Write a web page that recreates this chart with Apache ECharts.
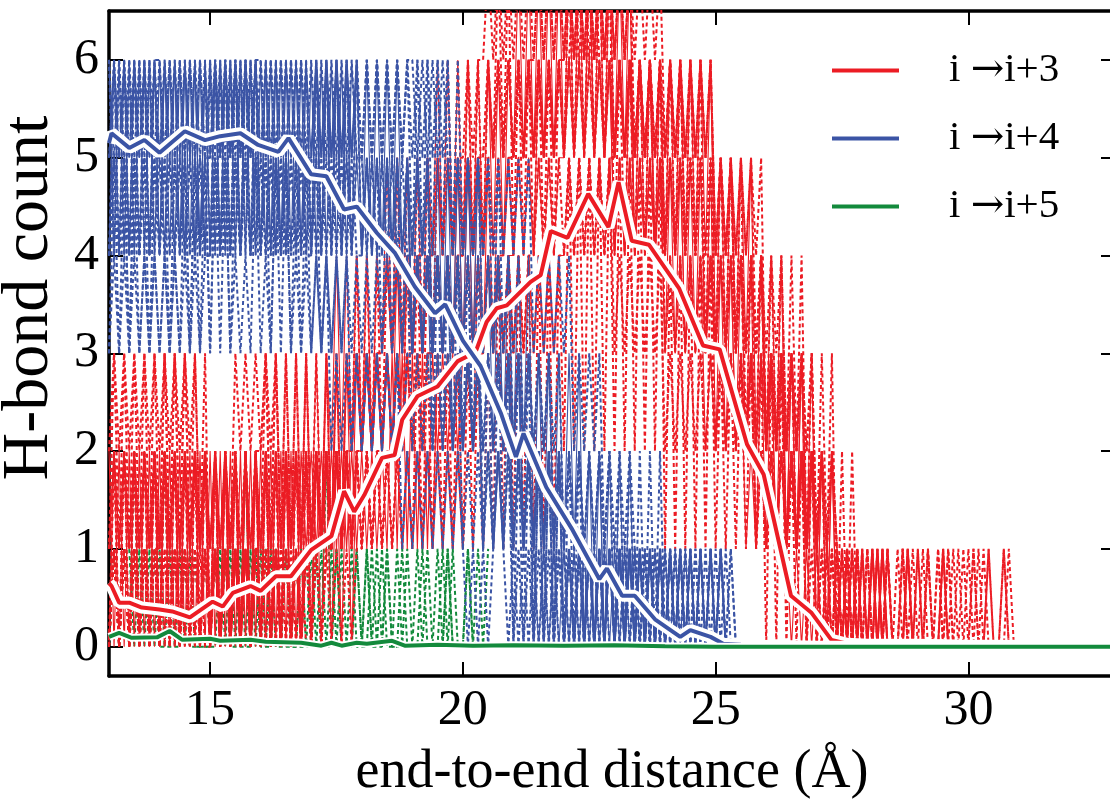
<!DOCTYPE html>
<html>
<head>
<meta charset="utf-8">
<script src="https://cdn.jsdelivr.net/npm/echarts@6/dist/echarts.min.js"></script>
<style>
  html, body { margin: 0; padding: 0; background: #fff; }
  #chart { width: 1110px; height: 803px; }
</style>
</head>
<body>
<div id="chart"></div>
<script>
// individual trajectories, one H-bond count every 0.1 A starting at 13.0 A
const traceStart = 13.0;
const traceStep = 0.1;

const blueTraces = [
  '6464646464 6464646464 6464646464 6464646464 6464646465 5454545434 3434232323 2323121212 1212101010 1010101010 1010101010 1010100000 0000000000 0',
  '5656465646 5656565646 4656565656 5646565656 4646464545 4545454545 4545343434 3434343423 2323232312 1212121201 0101010101 0101010000 0000000000 0',
  '4545354535 4535453545 3545354545 4535453535 4534343423 2323232312 1212121212 1010101210 1010101010 0101010100 0000101000 0000000000 0000000000 0',
  '5656565656 6565656565 5656565656 6565656565 5656565656 5656565656 6565656545 4545454545 4545343434 3423232312 1212101010 1010101010 1010000000 0',
  '4545454545 5454545454 4545454545 5454545454 4545454545 5454545454 4545343434 3423232323 2312121212 1010101010 0101010101 0101000000 0000000000 0',
  '4646464646 4646464646 4646464646 4646464646 4646464646 4646464645 4545353535 3535342424 2424131313 1313020202 0202010101 0101010101 0100000000 0',
  '3535353434 3434353535 3535343435 3435353434 3434232323 2323232323 3434343423 2323121212 1212121201 0101010101 0101000000 0000000000 0000000000 0',
  '6565656565 6565656565 6565656565 6565656565 6565656565 5656565656 5656565645 4545453534 3423232323 1212121212 1010101010 1010101000 0000000000 0',
  '5656565656 4656465646 5646564656 4656465646 5646564656 4545454545 3434343434 2323232323 1212121212 0101010101 0101010101 0000000000 0000000000 0',
  '4646464646 5656565656 4646464646 5656565656 4646464646 5656565656 4646464646 4545343434 2323232312 1212121212 0101010101 0101010101 0100000000 0',
  '6464646464 5454545454 6464646464 5454545454 5454545454 4545353535 3535242424 2424131313 1313020202 0202010101 0101010101 0101010101 0101000000 0',
  '3434343434 3434343434 4545454545 4545454545 3434343434 3434343434 2323232323 1212121212 0101010101 0101010101 0202020202 0101010101 0101000000 0',
  '4545454545 4545454545 5656565656 4545454545 5656565656 4545454545 3434343434 2323232323 0202020202 0101010101 0101010101 0101010101 0100000000 0'
];
const blueSolid = [true, true, false, false, false, true, false, false, true, false, false, false, false];

const redTraces = [
  '0202020202 0202020202 0202020202 0202020202 1212121313 2323232424 3434343435 3535353545 4545465656 5656565656 4545454545 3434343423 2323231212 1212101010 1010000000 0000000000 0000000000 0000000000 0',
  '1212121212 0212021202 1202120212 0202020202 0202020202 1212121212 1212132323 2324343434 4545454545 5656575656 4546454545 4545343434 3434232323 2312121212 1000000000 0000000000 0000000000 0000000000 0',
  '2323232323 2323232312 1212132323 2313121212 1212121223 2323343434 3434454545 4545565656 5656676767 6767676767 5656565645 4545454534 3434342323 2323121212 1210101010 1000100010 0010000100 0000000000 0',
  '0101010101 0101010101 0101010101 0101010101 0101121212 1212121212 1212121212 1223343434 3434454545 4545454545 5656565656 4545454545 3434343434 2323232323 1212101010 1010100010 1000100010 0010000010 0',
  '0202120212 0212021202 0202120202 1212021212 0212121212 2323232323 2323343434 3434343445 4556565656 5676767656 5656565656 3434343434 2323232312 1212121201 0101000000 0100000100 0000000000 0100000000 0',
  '2020202020 2020202020 2020202020 2020202021 2121212121 2121213131 3131323232 3434343434 3434343434 4545454545 4545454545 3535353535 2424242413 1313131302 0202010100 0000000000 0000000000 0000000000 0',
  '1313131313 1313131212 1212121212 2323131313 1213131323 2323232324 2424343434 4545455656 5656565656 6767676767 6767565656 5656454545 4545343434 2323231212 1010101010 0010100010 0010001000 1000100000 0',
  '0101010101 0101010101 0101010101 0101010101 0101121212 1212122323 2323232323 2323343434 3434343434 4545454545 3434343434 2323232323 2323232312 1212121212 1201010101 0101000100 0100010001 0000000100 0',
  '0101020102 0201010201 0102010102 0201020101 1212121223 2323343434 3445454545 5656676767 6767676767 6767676767 6767565656 5656565656 4545343434 2323121212 1010101010 0010000000 1000010000 0000100000 0',
  '1212121212 1212121212 1212121212 1212121213 1313242424 2424353535 3535464646 4646464646 5757575757 5757575757 5757464646 4646464646 3535353524 2424131313 0202010100 0000000000 0000000000 0000000000 0',
  '0101010101 0202020202 0202020202 0202020202 0212121212 1212232323 2323343434 4545565656 5656565656 5656565656 5656565656 5656565656 4545454534 3434232323 1212101010 1010101010 0010001000 0001000100 0',
  '0202020202 1313131313 0202020202 1313131313 1313131324 2424243535 3535354646 4646465757 4646464646 5757575757 4646464646 4646464635 3535352424 2424242413 1313020201 0101000000 0000000000 0000000000 0',
  '0101010101 1010101010 0101010101 1010101010 0101010101 1212121212 1313131313 1313131414 1414141414 2525252525 2525252525 1414141414 1313131313 0303020202 0101010101 0001000100 0000100000 0100000000 0',
  '1212121212 1212121212 0101010101 0101010101 1212121212 2323232323 3434343434 4545454545 5656565656 6767676767 6767676767 5656565656 4545454545 2323232312 1212101010 0101000001 0000010000 0000000000 0'
];
const redSolid = [true, true, false, false, false, true, false, false, false, true, false, false, false, false];

const greenTraces = [
  '0101010101 0000010101 0101000001 0101010101 0100010001 0101010000 0100010100 010001',
  '1212101010 1010101000 0010101010 1010000010 1010101010 0010100010 0010001010 000100',
  '0101020101 0201010000 0101010201 0001010000 0102010001 0100010101 0001000100 010000'
];

// averaged H-bond counts
const redMeanX = [13.0, 13.05, 13.2, 13.4, 13.65, 14.0, 14.25, 14.6, 15.05, 15.25, 15.45, 15.8, 16.0, 16.3, 16.6, 17.0, 17.4, 17.65, 17.85, 18.05, 18.4, 18.65, 18.8, 19.1, 19.5, 19.9, 20.25, 20.47, 20.67, 20.87, 21.34, 21.54, 21.74, 22.07, 22.48, 22.88, 23.08, 23.34, 23.68, 24.28, 24.75, 25.08, 25.62, 25.95, 26.49, 26.89, 27.29, 27.6, 28.0, 29.0, 30.0, 31.0, 31.5, 32.9];
const redMeanY = [0.65, 0.62, 0.45, 0.45, 0.40, 0.38, 0.36, 0.30, 0.46, 0.41, 0.55, 0.62, 0.57, 0.72, 0.72, 0.99, 1.13, 1.59, 1.38, 1.55, 1.93, 1.96, 2.32, 2.56, 2.66, 2.92, 3.01, 3.32, 3.46, 3.49, 3.73, 3.80, 4.25, 4.18, 4.63, 4.29, 4.75, 4.15, 4.11, 3.66, 3.08, 3.04, 2.07, 1.76, 0.52, 0.35, 0.07, 0.03, 0.02, 0.02, 0.01, 0.01, 0, 0];

const blueMeanX = [13.0, 13.05, 13.4, 13.7, 14.0, 14.5, 14.9, 15.2, 15.6, 15.95, 16.35, 16.55, 17.0, 17.3, 17.65, 17.9, 18.3, 18.65, 19.05, 19.45, 19.65, 20.0, 20.35, 20.75, 21.05, 21.2, 21.65, 22.15, 22.7, 22.85, 23.15, 23.4, 23.8, 24.3, 24.5, 24.9, 25.15, 25.5, 26.0, 27.0, 32.9];
const blueMeanY = [5.15, 5.25, 5.10, 5.18, 5.05, 5.27, 5.18, 5.22, 5.25, 5.13, 5.06, 5.20, 4.83, 4.81, 4.47, 4.50, 4.23, 4.03, 3.68, 3.41, 3.50, 3.13, 2.87, 2.39, 1.94, 2.18, 1.63, 1.21, 0.69, 0.80, 0.52, 0.52, 0.28, 0.10, 0.17, 0.10, 0.03, 0.02, 0.01, 0, 0];

const greenMeanX = [13.0, 13.2, 13.45, 13.95, 14.2, 14.45, 15.0, 15.2, 15.8, 16.1, 16.8, 17.2, 17.4, 17.6, 17.9, 18.1, 18.6, 18.85, 19.5, 20.2, 21.0, 22.0, 23.0, 24.0, 25.0, 32.9];
const greenMeanY = [0.10, 0.14, 0.09, 0.095, 0.16, 0.07, 0.08, 0.06, 0.07, 0.05, 0.04, 0.01, 0.04, 0.01, 0.04, 0.03, 0.06, 0.01, 0.02, 0.01, 0.015, 0.01, 0.015, 0.005, 0, 0];

const seriesNames = ['i \u2192i+3', 'i \u2192i+4', 'i \u2192i+5'];
const xTicks = [15, 20, 25, 30];
const yTicks = [0, 1, 2, 3, 4, 5, 6];

const RED = '#ec1c24';
const BLUE = '#3b54a5';
const GREEN = '#138a3c';
const FONT = '"Liberation Serif", "Times New Roman", serif';

function traceData(str) {
  return str.replace(/\s/g, '').split('').map((c, i) => [+(traceStart + traceStep * i).toFixed(2), +c]);
}
function pairs(xs, ys) {
  return xs.map((x, i) => [x, ys[i]]);
}
function traceSeries(str, color, solid) {
  return {
    type: 'line', data: traceData(str), symbol: 'none', silent: true, z: 1,
    lineStyle: solid ? { color: color, width: 1.1 } : { color: color, width: 2, type: [4, 3] }
  };
}
function meanSeries(name, data, color, outline) {
  const out = [];
  if (outline) {
    out.push({ type: 'line', data: data, symbol: 'none', silent: true, z: 3,
      lineStyle: { color: '#fff', width: outline } });
  }
  out.push({ type: 'line', name: name, data: data, symbol: 'none', silent: true, z: 3, color: color,
    lineStyle: { color: color, width: 4 } });
  return out;
}

const series = [];
greenTraces.forEach((t) => series.push(traceSeries(t, GREEN, false)));
redTraces.forEach((t, i) => series.push(traceSeries(t, RED, redSolid[i])));
blueTraces.forEach((t, i) => series.push(traceSeries(t, BLUE, blueSolid[i])));
series.push(...meanSeries(seriesNames[0], pairs(redMeanX, redMeanY), RED, 12));
series.push(...meanSeries(seriesNames[1], pairs(blueMeanX, blueMeanY), BLUE, 12));
series.push(...meanSeries(seriesNames[2], pairs(greenMeanX, greenMeanY), GREEN, 8));

const axisLine = { onZero: false, lineStyle: { color: '#000', width: 3.5 } };

const chart = echarts.init(document.getElementById('chart'), null, { renderer: 'canvas' });
chart.setOption({
  animation: false,
  backgroundColor: '#fff',
  grid: { left: 109, right: -5, top: 11, bottom: 127, containLabel: false, outerBoundsMode: 'none' },
  legend: {
    data: seriesNames,
    orient: 'vertical',
    left: 827,
    top: 45,
    icon: 'rect',
    itemWidth: 67,
    itemHeight: 4,
    itemGap: 27,
    formatter: (name) => '{t|i }{a|\u2192}{t|' + name.split('\u2192')[1] + '}',
    textStyle: {
      color: '#000', lineHeight: 40, padding: [0, 0, 0, 45],
      rich: {
        t: { fontFamily: FONT, fontSize: 41, color: '#000' },
        a: { fontFamily: '"DejaVu Serif", serif', fontSize: 40, color: '#000' }
      }
    }
  },
  xAxis: [
    {
      type: 'value', min: 13, max: 32.9, position: 'bottom',
      axisLine: axisLine,
      axisTick: { inside: true, length: 14, lineStyle: { color: '#000', width: 2 }, customValues: xTicks },
      axisLabel: { customValues: xTicks, fontFamily: FONT, fontSize: 50, color: '#000', margin: 10 },
      splitLine: { show: false },
      name: 'end-to-end distance (\u00c5)',
      nameLocation: 'middle',
      nameGap: 70,
      nameTextStyle: { fontFamily: FONT, fontSize: 54, color: '#000' }
    },
    {
      type: 'value', min: 13, max: 32.9, position: 'top',
      axisLine: axisLine,
      axisTick: { inside: true, length: 14, lineStyle: { color: '#000', width: 2 }, customValues: xTicks },
      axisLabel: { show: false },
      splitLine: { show: false }
    }
  ],
  yAxis: [
    {
      type: 'value', min: -0.3, max: 6.5, position: 'left',
      axisLine: axisLine,
      axisTick: { inside: true, length: 14, lineStyle: { color: '#000', width: 2 }, customValues: yTicks },
      axisLabel: { customValues: yTicks, fontFamily: FONT, fontSize: 50, color: '#000', margin: 10 },
      splitLine: { show: false },
      name: 'H-bond count',
      nameLocation: 'middle',
      nameGap: 40,
      nameTextStyle: { fontFamily: FONT, fontSize: 66, color: '#000', padding: [0, 0, 0, 91] }
    },
    {
      type: 'value', min: -0.3, max: 6.5, position: 'right',
      axisLine: axisLine,
      axisTick: { inside: true, length: 14, lineStyle: { color: '#000', width: 2 }, customValues: yTicks },
      axisLabel: { show: false },
      splitLine: { show: false }
    }
  ],
  series: series
});
</script>
</body>
</html>
